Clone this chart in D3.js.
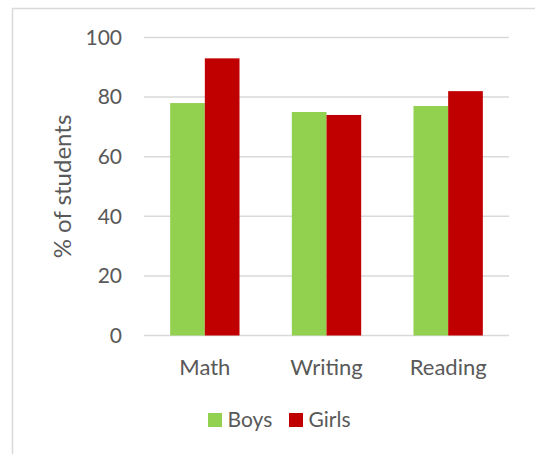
<!DOCTYPE html>
<html>
<head>
<meta charset="utf-8">
<script src="https://cdn.jsdelivr.net/npm/d3@7"></script>
<style>
  html, body { margin: 0; padding: 0; background: #fff; }
  svg { display: block; }
  text { font-family: Lato, "Open Sans", sans-serif; fill: #595959; }
</style>
</head>
<body>
<script>
// Share of students by subject, split by gender
const subjects = ["Math", "Writing", "Reading"];
const seriesNames = ["Boys", "Girls"];
const boys = [78, 75, 77];
const girls = [93, 74, 82];
const yTicks = [0, 20, 40, 60, 80, 100];
const colors = ["#92D050", "#C00000"];

const W = 535, H = 454;
const svg = d3.select("body").append("svg").attr("width", W).attr("height", H);

// outer chart frame
svg.append("rect")
  .attr("x", 12.5).attr("y", 8.5)
  .attr("width", 700).attr("height", 700)
  .attr("fill", "none").attr("stroke", "#D9D9D9").attr("stroke-width", 1.5);

const plot = { left: 144, right: 509, top: 37.5, bottom: 335.5 };

const y = d3.scaleLinear().domain([0, 100]).range([plot.bottom, plot.top]);
const x0 = d3.scaleBand().domain(subjects).range([plot.left, plot.right]).paddingInner(0.43).paddingOuter(0.215);
const x1 = d3.scaleBand().domain(seriesNames).range([0, x0.bandwidth()]);

// gridlines
svg.append("g").selectAll("line").data(yTicks).join("line")
  .attr("x1", plot.left).attr("x2", plot.right)
  .attr("y1", d => y(d)).attr("y2", d => y(d))
  .attr("stroke", "#D9D9D9").attr("stroke-width", 1.5);

// y tick labels
const yAxis = d3.axisLeft(y).tickValues(yTicks).tickSize(0).tickPadding(0);
const gy = svg.append("g").attr("transform", `translate(${122},0)`).call(yAxis);
gy.select(".domain").remove();
gy.selectAll("text").style("font-size", "21px").attr("font-family", null).attr("fill", "#595959");

// bars
const data = subjects.map((s, i) => ({ subject: s, values: [boys[i], girls[i]] }));
const groups = svg.append("g").selectAll("g").data(data).join("g")
  .attr("transform", d => `translate(${x0(d.subject)},0)`);
groups.selectAll("rect").data(d => d.values.map((v, j) => ({ key: seriesNames[j], v, j })))
  .join("rect")
  .attr("x", d => x1(d.key))
  .attr("width", x1.bandwidth())
  .attr("y", d => y(d.v))
  .attr("height", d => y(0) - y(d.v))
  .attr("fill", d => colors[d.j]);

// category labels
const xAxis = d3.axisBottom(x0).tickSize(0).tickPadding(0);
const gx = svg.append("g").attr("transform", `translate(0,${plot.bottom})`).call(xAxis);
gx.select(".domain").remove();
gx.selectAll("text").attr("dy", null).attr("y", 39)
  .style("font-size", "22px").attr("font-family", null).attr("fill", "#595959");

// axis title
svg.append("text")
  .attr("transform", `translate(71,${(plot.top + plot.bottom) / 2}) rotate(-90)`)
  .attr("text-anchor", "middle")
  .style("font-size", "24px")
  .text("% of students");

// legend
const legend = svg.append("g").attr("transform", "translate(208,413)");
const items = [{ name: seriesNames[0], x: 0 }, { name: seriesNames[1], x: 81 }];
items.forEach((it, i) => {
  const g = legend.append("g").attr("transform", `translate(${it.x},0)`);
  g.append("rect").attr("width", 14).attr("height", 14).attr("fill", colors[i]);
  g.append("text").attr("x", 19.5).attr("y", 14).style("font-size", "21px").text(it.name);
});
</script>
</body>
</html>
